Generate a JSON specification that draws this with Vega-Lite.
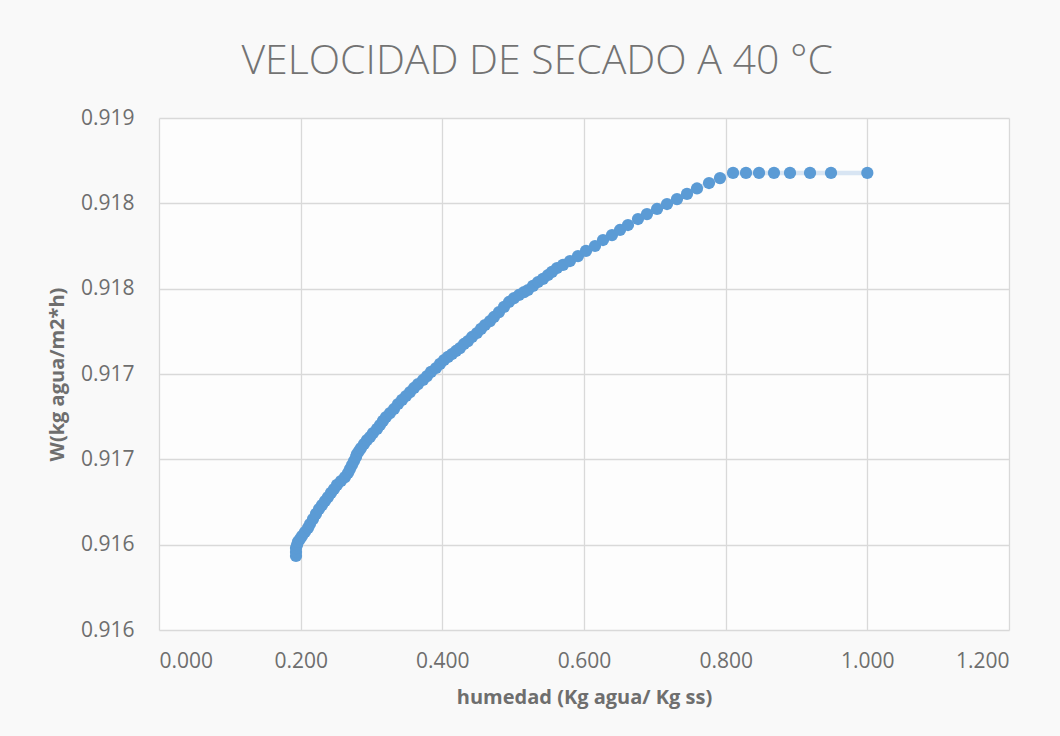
{
  "$schema": "https://vega.github.io/schema/vega-lite/v6.json",
  "width": 850,
  "height": 512,
  "autosize": "none",
  "padding": {"left": 159, "top": 118, "right": 51, "bottom": 106},
  "background": "#f9f9f9",
  "title": {
    "text": "VELOCIDAD DE SECADO A 40 °C",
    "font": "Open Sans",
    "fontSize": 41,
    "fontWeight": 300,
    "color": "#737373",
    "anchor": "middle",
    "frame": "bounds",
    "dx": 9,
    "offset": 24
  },
  "config": {
    "view": {"stroke": null, "fill": "#fdfdfd"},
    "axis": {
      "labelFont": "Open Sans",
      "labelFontSize": 21,
      "labelColor": "#6e6e6e",
      "titleFont": "Open Sans",
      "titleFontSize": 20,
      "titleFontWeight": "bold",
      "titleColor": "#6e6e6e",
      "gridColor": "#d9d9d9",
      "gridWidth": 1.3,
      "domain": false,
      "ticks": false
    }
  },
  "data": {
    "values": [
      {"humedad": 0.1934, "W": 0.915934},
      {"humedad": 0.1934, "W": 0.915957},
      {"humedad": 0.1934, "W": 0.915980},
      {"humedad": 0.1948, "W": 0.915998},
      {"humedad": 0.1962, "W": 0.916016},
      {"humedad": 0.1991, "W": 0.916033},
      {"humedad": 0.2019, "W": 0.916051},
      {"humedad": 0.2061, "W": 0.916074},
      {"humedad": 0.2104, "W": 0.916098},
      {"humedad": 0.2132, "W": 0.916121},
      {"humedad": 0.2174, "W": 0.916150},
      {"humedad": 0.2216, "W": 0.916180},
      {"humedad": 0.2259, "W": 0.916209},
      {"humedad": 0.2301, "W": 0.916232},
      {"humedad": 0.2344, "W": 0.916256},
      {"humedad": 0.2386, "W": 0.916279},
      {"humedad": 0.2428, "W": 0.916303},
      {"humedad": 0.2471, "W": 0.916326},
      {"humedad": 0.2513, "W": 0.916350},
      {"humedad": 0.2569, "W": 0.916373},
      {"humedad": 0.2626, "W": 0.916396},
      {"humedad": 0.2668, "W": 0.916420},
      {"humedad": 0.2696, "W": 0.916443},
      {"humedad": 0.2725, "W": 0.916467},
      {"humedad": 0.2753, "W": 0.916490},
      {"humedad": 0.2781, "W": 0.916514},
      {"humedad": 0.2795, "W": 0.916531},
      {"humedad": 0.2824, "W": 0.916549},
      {"humedad": 0.2852, "W": 0.916566},
      {"humedad": 0.2894, "W": 0.916590},
      {"humedad": 0.2936, "W": 0.916613},
      {"humedad": 0.2979, "W": 0.916631},
      {"humedad": 0.3021, "W": 0.916654},
      {"humedad": 0.3078, "W": 0.916678},
      {"humedad": 0.3120, "W": 0.916701},
      {"humedad": 0.3162, "W": 0.916725},
      {"humedad": 0.3205, "W": 0.916748},
      {"humedad": 0.3261, "W": 0.916771},
      {"humedad": 0.3318, "W": 0.916795},
      {"humedad": 0.3374, "W": 0.916824},
      {"humedad": 0.3431, "W": 0.916848},
      {"humedad": 0.3487, "W": 0.916871},
      {"humedad": 0.3544, "W": 0.916894},
      {"humedad": 0.3600, "W": 0.916918},
      {"humedad": 0.3657, "W": 0.916941},
      {"humedad": 0.3727, "W": 0.916965},
      {"humedad": 0.3784, "W": 0.916988},
      {"humedad": 0.3840, "W": 0.917012},
      {"humedad": 0.3911, "W": 0.917035},
      {"humedad": 0.3967, "W": 0.917059},
      {"humedad": 0.4024, "W": 0.917082},
      {"humedad": 0.4080, "W": 0.917100},
      {"humedad": 0.4137, "W": 0.917117},
      {"humedad": 0.4193, "W": 0.917135},
      {"humedad": 0.4249, "W": 0.917152},
      {"humedad": 0.4306, "W": 0.917176},
      {"humedad": 0.4362, "W": 0.917193},
      {"humedad": 0.4419, "W": 0.917217},
      {"humedad": 0.4489, "W": 0.917240},
      {"humedad": 0.4546, "W": 0.917264},
      {"humedad": 0.4602, "W": 0.917287},
      {"humedad": 0.4673, "W": 0.917310},
      {"humedad": 0.4729, "W": 0.917334},
      {"humedad": 0.4800, "W": 0.917363},
      {"humedad": 0.4871, "W": 0.917393},
      {"humedad": 0.4941, "W": 0.917422},
      {"humedad": 0.5012, "W": 0.917445},
      {"humedad": 0.5082, "W": 0.917463},
      {"humedad": 0.5153, "W": 0.917480},
      {"humedad": 0.5209, "W": 0.917492},
      {"humedad": 0.5280, "W": 0.917516},
      {"humedad": 0.5351, "W": 0.917539},
      {"humedad": 0.5421, "W": 0.917557},
      {"humedad": 0.5492, "W": 0.917580},
      {"humedad": 0.5548, "W": 0.917598},
      {"humedad": 0.5619, "W": 0.917621},
      {"humedad": 0.5704, "W": 0.917639},
      {"humedad": 0.5802, "W": 0.917662},
      {"humedad": 0.5915, "W": 0.917691},
      {"humedad": 0.6028, "W": 0.917721},
      {"humedad": 0.6155, "W": 0.917750},
      {"humedad": 0.6268, "W": 0.917785},
      {"humedad": 0.6395, "W": 0.917814},
      {"humedad": 0.6508, "W": 0.917844},
      {"humedad": 0.6621, "W": 0.917873},
      {"humedad": 0.6762, "W": 0.917908},
      {"humedad": 0.6889, "W": 0.917937},
      {"humedad": 0.7031, "W": 0.917967},
      {"humedad": 0.7172, "W": 0.917996},
      {"humedad": 0.7313, "W": 0.918025},
      {"humedad": 0.7454, "W": 0.918055},
      {"humedad": 0.7595, "W": 0.918087},
      {"humedad": 0.7765, "W": 0.918119},
      {"humedad": 0.7920, "W": 0.918148},
      {"humedad": 0.8104, "W": 0.918178},
      {"humedad": 0.8287, "W": 0.918178},
      {"humedad": 0.8471, "W": 0.918178},
      {"humedad": 0.8682, "W": 0.918178},
      {"humedad": 0.8908, "W": 0.918178},
      {"humedad": 0.9191, "W": 0.918178},
      {"humedad": 0.9487, "W": 0.918178},
      {"humedad": 1.0, "W": 0.918178}
    ]
  },
  "encoding": {
    "x": {
      "field": "humedad",
      "type": "quantitative",
      "scale": {"domain": [0, 1.2], "nice": false, "zero": false},
      "axis": {
        "values": [0, 0.2, 0.4, 0.6, 0.8, 1.0, 1.2],
        "format": ".3f",
        "labelPadding": 20,
        "title": "humedad (Kg agua/ Kg ss)",
        "titlePadding": 16
      }
    },
    "y": {
      "field": "W",
      "type": "quantitative",
      "scale": {"domain": [0.9155, 0.9185], "nice": false, "zero": false},
      "axis": {
        "values": [0.9155, 0.916, 0.9165, 0.917, 0.9175, 0.918, 0.9185],
        "labelExpr": "format(datum.value + 0.000001, '.3f')",
        "labelPadding": 25,
        "title": "W(kg agua/m2*h)",
        "titlePadding": 13
      }
    }
  },
  "layer": [
    {
      "mark": {"type": "line", "color": "#d8e5f3", "strokeWidth": 4.5},
      "encoding": {"order": {"field": "humedad", "type": "quantitative"}}
    },
    {
      "mark": {"type": "point", "filled": true, "color": "#5b9bd5", "opacity": 1, "size": 150}
    }
  ]
}
